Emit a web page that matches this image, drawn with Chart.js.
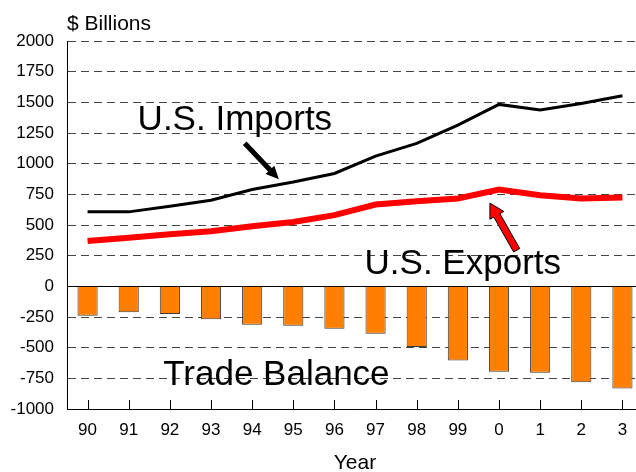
<!DOCTYPE html>
<html>
<head>
<meta charset="utf-8">
<script src="https://cdn.jsdelivr.net/npm/chart.js@4"></script>
<style>
  html, body { margin: 0; padding: 0; overflow: hidden; background: #fff; }
  canvas { display: block; }
</style>
</head>
<body>
<canvas id="tradeChart" width="660" height="472"></canvas>
<script>
// values, $ billions
const years = ['90', '91', '92', '93', '94', '95', '96', '97', '98', '99', '0', '1', '2', '3'];
const imports = [607, 607, 653, 702, 790, 851, 920, 1061, 1165, 1314, 1483, 1437, 1491, 1553];
const exportsUS = [370, 397, 424, 449, 490, 525, 580, 667, 694, 716, 789, 743, 716, 724];
const balance = [-240, -212, -226, -269, -313, -321, -345, -386, -495, -604, -697, -704, -781, -833];

const yTicks = { min: -1000, max: 2000, step: 250 };

// callout labels, anchored in data units (category index, value)
const callouts = [
    { text: 'U.S. Imports', x: 3.58, y: 1273 },
    { text: 'U.S. Exports', x: 9.12, y: 104 },
    { text: 'Trade Balance', x: 4.59, y: -808 }
];
const blackArrow = { from: [3.82, 1167], to: [4.65, 873] };
const redArrow = { from: [10.43, 294], to: [9.78, 678] };

const FONT = '"Liberation Sans", Arial, sans-serif';

function pt(chart, p) {
    return [chart.scales.x.getPixelForValue(p[0]), chart.scales.y.getPixelForValue(p[1])];
}

const overlay = {
    id: 'overlay',
    beforeDatasetsDraw(chart) {
        const { ctx, chartArea, scales } = chart;
        const y0 = scales.y.getPixelForValue(0);
        ctx.save();
        ctx.strokeStyle = '#000';
        ctx.lineWidth = 1;
        ctx.beginPath();
        ctx.moveTo(chartArea.left, Math.round(y0) + 0.5);
        ctx.lineTo(chartArea.right, Math.round(y0) + 0.5);
        ctx.stroke();
        ctx.restore();
    },
    afterDraw(chart) {
        const { ctx, chartArea, scales } = chart;
        ctx.save();

        // inward tick marks on the year axis
        ctx.strokeStyle = '#000';
        ctx.lineWidth = 1;
        years.forEach((_, i) => {
            const x = Math.round(scales.x.getPixelForValue(i)) + 0.5;
            ctx.beginPath();
            ctx.moveTo(x, chartArea.bottom);
            ctx.lineTo(x, chartArea.bottom - 9);
            ctx.stroke();
        });

        // "$ Billions" above the plot
        ctx.fillStyle = '#000';
        ctx.font = '21px ' + FONT;
        ctx.textAlign = 'left';
        ctx.textBaseline = 'alphabetic';
        ctx.fillText('$ Billions', chartArea.left, 30);

        // big callout texts
        ctx.font = '35px ' + FONT;
        ctx.textAlign = 'center';
        callouts.forEach(c => {
            const [x, y] = pt(chart, [c.x, c.y]);
            ctx.fillText(c.text, x, y);
        });

        // black arrow to imports line
        let [x1, y1] = pt(chart, blackArrow.from);
        let [x2, y2] = pt(chart, blackArrow.to);
        let a = Math.atan2(y2 - y1, x2 - x1);
        ctx.strokeStyle = '#000';
        ctx.lineWidth = 5;
        ctx.lineCap = 'butt';
        ctx.beginPath();
        ctx.moveTo(x1, y1);
        ctx.lineTo(x2 - 9 * Math.cos(a), y2 - 9 * Math.sin(a));
        ctx.stroke();
        ctx.fillStyle = '#000';
        ctx.beginPath();
        ctx.moveTo(x2, y2);
        ctx.lineTo(x2 - 13 * Math.cos(a) + 6 * Math.sin(a), y2 - 13 * Math.sin(a) - 6 * Math.cos(a));
        ctx.lineTo(x2 - 13 * Math.cos(a) - 6 * Math.sin(a), y2 - 13 * Math.sin(a) + 6 * Math.cos(a));
        ctx.closePath();
        ctx.fill();

        // red block arrow to exports line
        [x1, y1] = pt(chart, redArrow.from);
        [x2, y2] = pt(chart, redArrow.to);
        a = Math.atan2(y2 - y1, x2 - x1);
        const cs = Math.cos(a), sn = Math.sin(a);
        const len = Math.hypot(x2 - x1, y2 - y1);
        const hl = 14, hw = 8, sw = 3.5;
        const shape = [[0, -sw], [len - hl, -sw], [len - hl, -hw], [len, 0], [len - hl, hw], [len - hl, sw], [0, sw]];
        ctx.beginPath();
        shape.forEach(([u, v], i) => {
            const px = x1 + u * cs - v * sn;
            const py = y1 + u * sn + v * cs;
            if (i === 0) ctx.moveTo(px, py); else ctx.lineTo(px, py);
        });
        ctx.closePath();
        ctx.fillStyle = '#ff0000';
        ctx.fill();
        ctx.strokeStyle = '#000';
        ctx.lineWidth = 1;
        ctx.stroke();

        ctx.restore();
    }
};

new Chart(document.getElementById('tradeChart'), {
    type: 'bar',
    data: {
        labels: years,
        datasets: [{
            type: 'line',
            label: 'U.S. Imports',
            data: imports,
            borderColor: '#000',
            borderWidth: 3,
            pointRadius: 0,
            tension: 0,
            order: 1
        }, {
            type: 'line',
            label: 'U.S. Exports',
            data: exportsUS,
            borderColor: '#ff0000',
            borderWidth: 6,
            pointRadius: 0,
            tension: 0,
            order: 2
        }, {
            label: 'Trade Balance',
            data: balance,
            backgroundColor: '#ff8000',
            borderColor: '#3a3a3a',
            borderWidth: 1,
            barPercentage: 0.49,
            categoryPercentage: 1,
            order: 3
        }]
    },
    options: {
        responsive: false,
        animation: false,
        layout: { padding: { top: 41, right: 17, left: 0, bottom: 0 } },
        plugins: {
            legend: { display: false },
            tooltip: { enabled: false }
        },
        scales: {
            x: {
                offset: true,
                grid: { display: false, drawTicks: false },
                border: { display: true, color: '#000', width: 1 },
                ticks: { color: '#000', font: { family: FONT, size: 17 }, padding: 11 },
                title: { display: true, text: 'Year', color: '#000', font: { family: FONT, size: 21 }, padding: { top: 9, bottom: -4 } },
                afterFit(scale) { scale.height = 63; }
            },
            y: {
                min: yTicks.min,
                max: yTicks.max,
                grid: {
                    drawTicks: false,
                    color: ctx => ctx.tick && ctx.tick.value === 0 ? 'rgba(0,0,0,0)' : '#444',
                    lineWidth: 1
                },
                border: { display: true, color: '#000', width: 1, dash: [8, 5] },
                ticks: {
                    stepSize: yTicks.step,
                    color: '#000',
                    font: { family: FONT, size: 17 },
                    padding: 13,
                    callback: v => String(v)
                },
                afterFit(scale) { scale.width = 67; }
            }
        }
    },
    plugins: [overlay]
});
</script>
</body>
</html>
